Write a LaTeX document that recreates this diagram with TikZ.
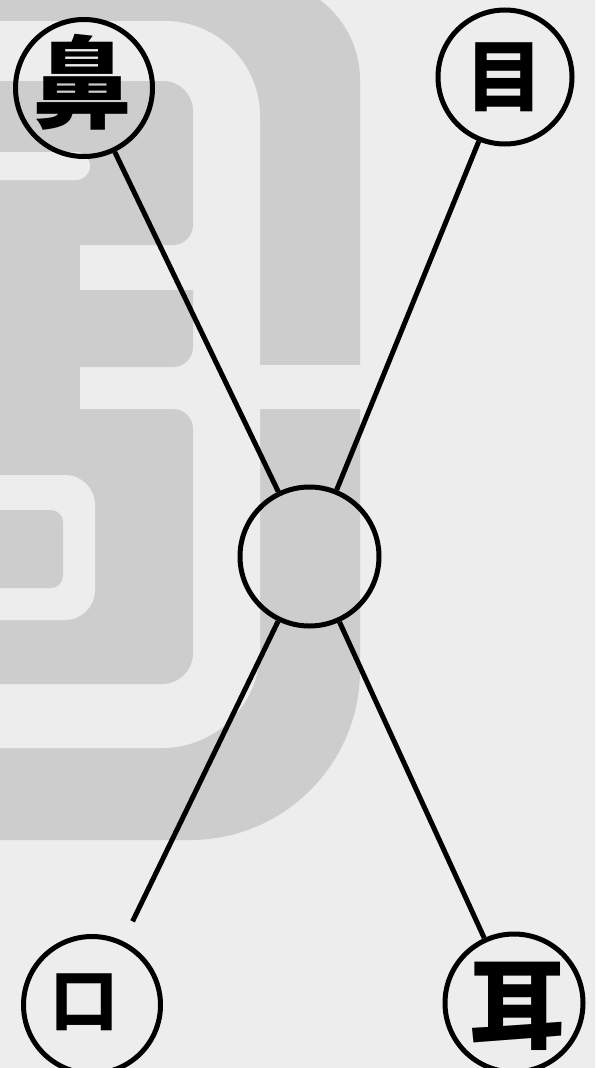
\documentclass[tikz,border=0pt]{standalone}
\usepackage{fontspec}
\newfontfamily\cjk{Noto Sans CJK SC}
\definecolor{paper}{RGB}{237,237,237}
\definecolor{bggray}{RGB}{205,205,205}
\begin{document}
\begin{tikzpicture}[x=1pt,y=-1pt,
  ring/.style={circle,draw=black,line width=5pt,minimum size=#1,inner sep=0pt},
  ring/.default=137pt,
  conn/.style={line width=5pt,draw=black},
  glyph/.style={inner sep=0pt,text=black}]
\fill[paper] (0,0) rectangle (595,1068);
\useasboundingbox (0,0) rectangle (595,1068);
% background gray figure
\fill[bggray] (-10,-20) -- (260,-20) arc[start angle=-90,end angle=0,radius=100] -- (360,670) arc[start angle=0,end angle=90,radius=170] -- (-10,840) -- cycle;
\fill[paper] (-10,21) -- (165,21) arc[start angle=-90,end angle=0,radius=95] -- (260,650) arc[start angle=0,end angle=90,radius=98] -- (-10,748) -- cycle;
\fill[paper] (80,365) rectangle (370,409);
\fill[bggray] (-10,81) -- (163,81) arc[start angle=-90,end angle=0,radius=30] -- (193,225) arc[start angle=0,end angle=90,radius=20] -- (-10,245) -- cycle;
\fill[bggray] (-10,290) -- (193,290) -- (193,347) arc[start angle=0,end angle=90,radius=20] -- (-10,367) -- cycle;
\fill[bggray] (-10,240) rectangle (80,420);
\fill[bggray] (-10,409) -- (173,409) arc[start angle=-90,end angle=0,radius=20] -- (193,653) arc[start angle=0,end angle=90,radius=31] -- (-10,684) -- cycle;
\fill[paper] (-10,152) -- (76,152) arc[start angle=-90,end angle=90,radius=14] -- (-10,180) -- cycle;
\fill[paper] (-10,475) -- (65,475) arc[start angle=-90,end angle=0,radius=30] -- (95,590) arc[start angle=0,end angle=90,radius=30] -- (-10,620) -- cycle;
\fill[bggray] (-10,510) -- (51,510) arc[start angle=-90,end angle=0,radius=12] -- (63,576) arc[start angle=0,end angle=90,radius=12] -- (-10,588) -- cycle;
% circles
\node[ring=137pt] (bi) at (84,88) {};
\node[ring=134pt] (mu) at (505,77) {};
\node[ring=139pt] (c) at (309.5,556.5) {};
\node[ring=137pt] (ko) at (92,1005) {};
\node[ring=138pt] (mi) at (514,1003) {};
% glyphs
\node[glyph,font={\cjk\bfseries\fontsize{100}{100}\selectfont}] (tbi) at (82,82) {鼻};
\node[glyph,font={\cjk\bfseries\fontsize{78}{78}\selectfont}] (tmu) at (504,77) {目};
\node[glyph,font={\cjk\bfseries\fontsize{68}{68}\selectfont}] (tko) at (84,1002) {口};
\node[glyph,font={\cjk\bfseries\fontsize{96}{96}\selectfont}] (tmi) at (517,1006) {耳};
% connectors
\draw[conn] (bi) -- (c);
\draw[conn] (mu) -- (c);
\draw[conn,shorten <=22pt] (ko) -- (c);
\draw[conn] (mi) -- (c);
\end{tikzpicture}
\end{document}
